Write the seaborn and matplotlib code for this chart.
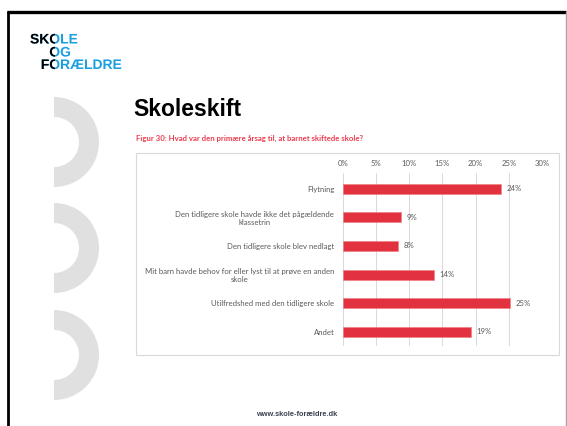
import matplotlib
matplotlib.use("Agg")
import pandas as pd
import seaborn as sns
import matplotlib.pyplot as plt
from matplotlib.patches import Rectangle, Wedge
from matplotlib.patheffects import AbstractPathEffect
from matplotlib.transforms import Bbox, TransformedBbox

# data
categories = [
    "Flytning",
    "Den tidligere skole havde ikke det pågældende\nklassetrin",
    "Den tidligere skole blev nedlagt",
    "Mit barn havde behov for eller lyst til at prøve en anden\nskole",
    "Utilfredshed med den tidligere skole",
    "Andet",
]
values = [23.8, 8.8, 8.3, 13.7, 25.2, 19.3]
value_labels = ["24%", "9%", "8%", "14%", "25%", "19%"]
x_ticks = [0, 5, 10, 15, 20, 25, 30]
x_ticklabels = ["0%", "5%", "10%", "15%", "20%", "25%", "30%"]
logo_lines = ["SKOLE", "OG", "FORÆLDRE"]

RED = "#e3323f"
BLUE = "#1a9fe0"
GREY_TXT = "#595959"

sns.set_style("white")
plt.rcParams["font.family"] = ["Lato", "DejaVu Sans"]

W, H = 567, 426
fig = plt.figure(figsize=(W / 100, H / 100), dpi=100)

# background "slide" in pixel coordinates
bg = fig.add_axes([0, 0, 1, 1])
bg.set_xlim(0, W)
bg.set_ylim(H, 0)
bg.axis("off")

# frame lines
bg.plot([7, 566], [11.5, 11.5], color="black", lw=2.4, solid_capstyle="butt")
bg.plot([7.5, 7.5], [10.5, H], color="black", lw=2.0, solid_capstyle="butt")
bg.plot([566, 566], [12, H], color="#a6a6a6", lw=1.0)

# grey half rings on the left
for cy in [142, 248, 355]:
    bg.add_patch(Wedge((54, cy), 45, -90, 90, width=20, color="#e0e0e0", lw=0))


# logo: blue text, everything left of the "O" column drawn black
class BlackLeft(AbstractPathEffect):
    def __init__(self, clip):
        super().__init__()
        self.clip = clip

    def draw_path(self, renderer, gc, tpath, affine, rgbFace):
        renderer.draw_path(gc, tpath, affine, rgbFace)
        gc0 = renderer.new_gc()
        gc0.copy_properties(gc)
        gc0.set_clip_rectangle(self.clip)
        renderer.draw_path(gc0, tpath, affine, (0, 0, 0, 1))
        gc0.restore()


black_zone = TransformedBbox(Bbox([[0, 0], [55, 100]]), bg.transData)
for txt, x, y in zip(logo_lines, [30, 49.3, 40.8], [39.5, 52.5, 65]):
    bg.text(x, y, txt, color=BLUE, fontsize=10, fontweight="bold",
            family="Liberation Sans", va="center", ha="left",
            path_effects=[BlackLeft(black_zone)])

# title + subtitle
bg.text(133, 110, "Skoleskift", fontsize=16.5, fontweight="bold",
        family="Liberation Sans", va="center", ha="left", color="black")
bg.text(136, 138.5, "Figur 30: Hvad var den primære årsag til, at barnet skiftede skole?",
        fontsize=5.6, fontweight="bold", color="#ef3b4e", va="center", ha="left")

# chart box
bg.add_patch(Rectangle((136, 153), 423, 202, fill=False, edgecolor="#d9d9d9", lw=0.8))

# footer
bg.text(297, 414, "www.skole-forældre.dk", fontsize=5.3, fontweight="bold",
        family="Liberation Sans", color="#3b4150", ha="center", va="center")

# bar chart
df = pd.DataFrame({"kategori": categories, "andel": values})
ax = fig.add_axes([342.7 / W, 1 - 346 / H, 199.3 / W, 173 / H])
sns.barplot(data=df, x="andel", y="kategori", color=RED, width=0.35,
            edgecolor="#f07a80", linewidth=0.4, saturation=1, ax=ax)
ax.set_xlim(0, 30)
ax.set_ylim(5.5, -0.55)
ax.set_xticks(x_ticks)
ax.set_xticklabels(x_ticklabels)
ax.xaxis.tick_top()
ax.grid(axis="x", color="#d9d9d9", lw=0.7)
ax.set_axisbelow(True)
for s in ax.spines.values():
    s.set_visible(False)
ax.tick_params(axis="x", length=0, pad=4.5, labelsize=5.6, labelcolor=GREY_TXT)
ax.tick_params(axis="y", length=0, pad=6, labelsize=5.6, labelcolor=GREY_TXT)
for lbl in ax.get_yticklabels():
    lbl.set_multialignment("center")
ax.set_xlabel("")
ax.set_ylabel("")

for i, (v, lab) in enumerate(zip(values, value_labels)):
    ax.text(v + 0.8, i, lab, fontsize=5.6, color=GREY_TXT, va="center", ha="left")

fig.savefig("out.png", dpi=100)
